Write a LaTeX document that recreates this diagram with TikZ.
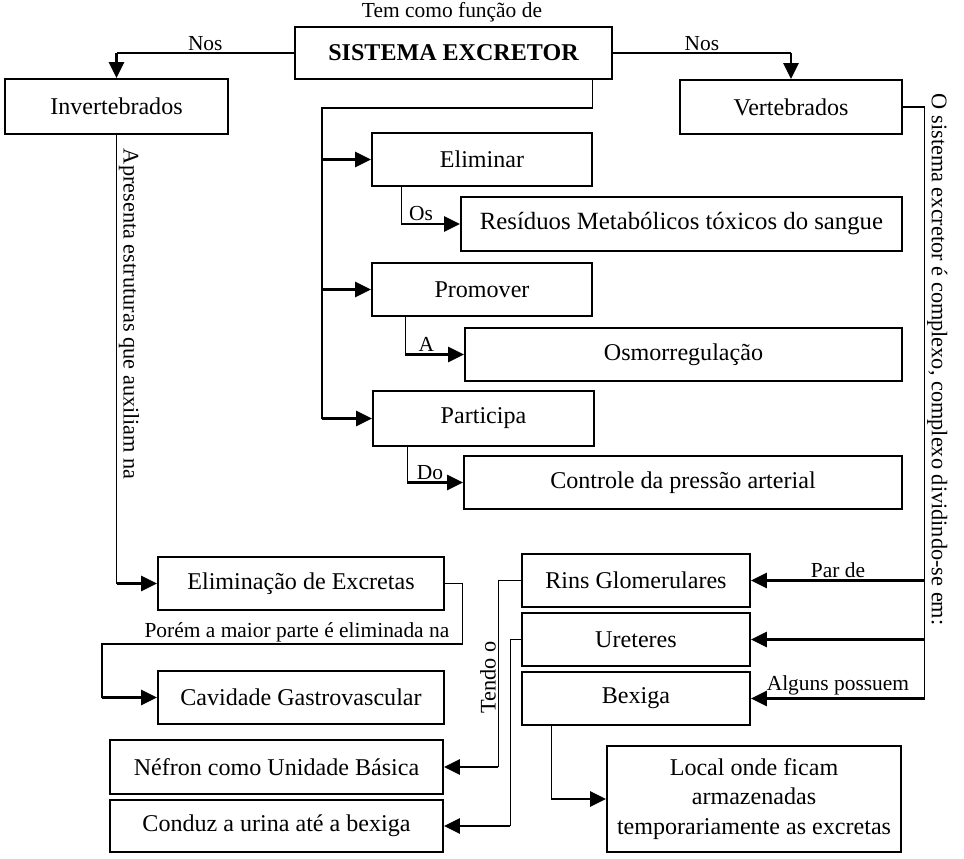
\documentclass[tikz,border=0pt]{standalone}
\usepackage{fontspec}
\setmainfont{Liberation Serif}
\usetikzlibrary{arrows.meta,calc,positioning}

\begin{document}
\begin{tikzpicture}[
  x=0.02cm, y=-0.02cm,
  box/.style={draw,line width=1.1pt,minimum height=1.06cm,inner sep=2pt,align=center,font=\fontsize{13.7}{17}\selectfont},
  conn/.style={line width=0.6pt},
  arrow/.style={-{Triangle[length=0.32cm,width=0.3cm]},line width=1.6pt},
  lbl/.style={inner sep=1pt,font=\fontsize{12.2}{14}\selectfont},
  side/.style={lbl,font=\fontsize{12.7}{14}\selectfont}
]
\useasboundingbox (0,0) rectangle (964,859);

% top
\node[lbl] (tem) at (452,12) {Tem como função de};
\node[box,minimum width=6.34cm,minimum height=1.04cm,font=\bfseries\fontsize{13.7}{17}\selectfont] (sis) at (453.5,53) {SISTEMA EXCRETOR};
\node[box,minimum width=4.46cm,minimum height=1.1cm] (inv) at (116.5,106.5) {Invertebrados};
\node[box,minimum width=4.44cm,minimum height=1.08cm] (vert) at (791,107) {Vertebrados};

% functions
\node[box,minimum width=4.4cm] (elim) at (482,159.5) {Eliminar};
\node[box,minimum width=8.82cm,minimum height=1.08cm,font=\fontsize{14.1}{17}\selectfont] (resid) at (681.5,224) {Resíduos Metabólicos tóxicos do sangue};
\node[box,minimum width=4.4cm] (prom) at (482,289.5) {Promover};
\node[box,minimum width=8.74cm] (osmo) at (683.5,354.5) {Osmorregulação};
\node[box,minimum width=4.42cm,minimum height=1.1cm] (part) at (483.5,418.5) {Participa};
\node[box,minimum width=8.76cm] (ctrl) at (683,482.5) {Controle da pressão arterial};

% invertebrados side
\node[box,minimum width=5.72cm] (elex) at (301,583.5) {Eliminação de Excretas};
\node[box,minimum width=5.72cm] (cav) at (301,697.5) {Cavidade Gastrovascular};

% vertebrados side
\node[box,minimum width=4.56cm] (rins) at (636,580.5) {Rins Glomerulares};
\node[box,minimum width=4.56cm] (uret) at (636,639.5) {Ureteres};
\node[box,minimum width=4.56cm] (bex) at (636,698.5) {Bexiga};
\node[box,minimum width=6.66cm,minimum height=1.08cm] (nef) at (276.5,767) {Néfron como Unidade Básica};
\node[box,minimum width=6.66cm,minimum height=1.04cm] (cond) at (276.5,826) {Conduz a urina até a bexiga};
\node[box,minimum width=5.88cm,minimum height=2.12cm] (local) at (754,799) {Local onde ficam\\armazenadas\\temporariamente as excretas};

% Nos
\draw[conn] (sis.west) -- node[lbl,above] {Nos} (sis.west -| inv.north);
\draw[arrow] (sis.west -| inv.north) -- (inv.north);
\draw[conn] (sis.east) -- node[lbl,above] {Nos} (sis.east -| vert.north);
\draw[arrow] (sis.east -| vert.north) -- (vert.north);

% trunk to the functions
\coordinate (trunk) at (322,108);
\draw[conn] ([xshift=-0.4cm]sis.south east) |- (trunk) -- (trunk |- part.west);
\foreach \n in {elim,prom,part}
  \draw[arrow] (trunk |- \n.west) -- (\n.west);

\coordinate (e1) at ([xshift=0.6cm]elim.south west);
\draw[conn] (e1) -- (e1 |- resid.west);
\draw[arrow] (e1 |- resid.west) -- node[lbl,above,pos=0.34] {Os} (resid.west);
\coordinate (p1) at ([xshift=0.68cm]prom.south west);
\draw[conn] (p1) -- (p1 |- osmo.west);
\draw[arrow] (p1 |- osmo.west) -- node[lbl,above,pos=0.36] {A} (osmo.west);
\coordinate (q1) at ([xshift=0.7cm]part.south west);
\draw[conn] (q1) -- (q1 |- ctrl.west);
\draw[arrow] (q1 |- ctrl.west) -- node[lbl,above,pos=0.41] {Do} (ctrl.west);

% invertebrados
\draw[conn] (inv.south) -- node[side,pos=0.4,rotate=-90,anchor=south] {Apresenta estruturas que auxiliam na} (inv.south |- elex.west);
\draw[arrow] (inv.south |- elex.west) -- (elex.west);
\coordinate (bend) at (102,644);
\draw[conn] (elex.east) -- ++(18,0) |- node[lbl,above,pos=0.73] {Porém a maior parte é eliminada na} (bend) -- (bend |- cav.west);
\draw[arrow] (bend |- cav.west) -- (cav.west);

% vertebrados
\coordinate (rtrunk) at ([xshift=0.44cm]vert.east);
\draw[conn] (vert.east) -- (rtrunk) -- node[side,pos=0.427,rotate=-90,anchor=south] {O sistema excretor é complexo, complexo dividindo-se em:} (rtrunk |- bex.east);
\draw[arrow] (rtrunk |- rins.east) -- node[lbl,above] {Par de} (rins.east);
\draw[arrow] (rtrunk |- uret.east) -- (uret.east);
\draw[arrow] (rtrunk |- bex.east) -- node[lbl,above] {Alguns possuem} (bex.east);

\coordinate (t1) at ([xshift=-0.46cm]rins.west);
\draw[conn] (rins.west) -- (t1) -- node[side,pos=0.52,rotate=90,anchor=south] {Tendo o} (t1 |- nef.east);
\draw[arrow] (t1 |- nef.east) -- (nef.east);
\coordinate (t2) at ([xshift=-0.22cm]uret.west);
\draw[conn] (uret.west) -- (t2) -- (t2 |- cond.east);
\draw[arrow] (t2 |- cond.east) -- (cond.east);
\coordinate (b1) at ([xshift=0.6cm]bex.south west);
\draw[conn] (b1) -- (b1 |- local.west);
\draw[arrow] (b1 |- local.west) -- (local.west);
\end{tikzpicture}
\end{document}
